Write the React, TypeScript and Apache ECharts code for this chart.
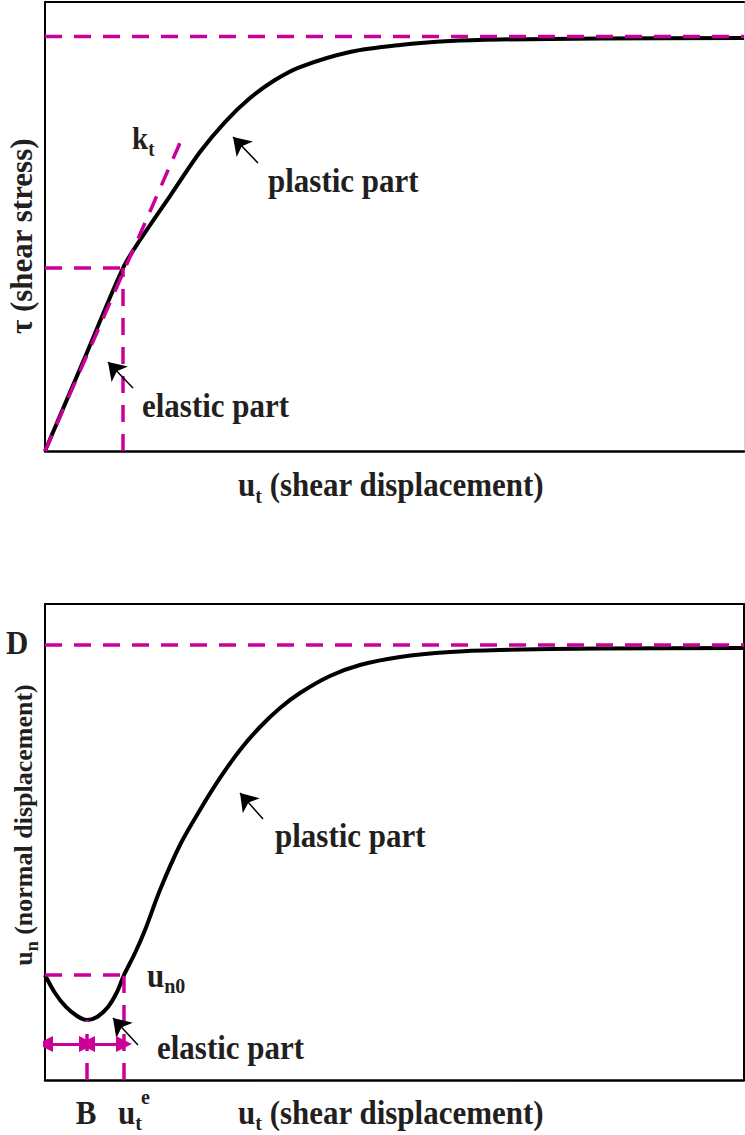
import React, { useEffect, useRef } from "react";
import * as echarts from "echarts";

const MAGENTA = "#CC0099";
const TEXT = "#231F20";
const FONT = '"Liberation Serif", "Times New Roman", serif';
const SY = 1.1;

// ---- Top panel: tau vs u_t (arbitrary 0..100 units) ----
const tauX = [0, 5.58, 11.16, 13.59, 17.88, 22.17, 25.75, 29.33, 32.9, 36.48, 43.63, 50.79, 57.94, 65.09, 79.4, 100];
const tauY = [0, 20.38, 40.76, 46.99, 56.79, 66.59, 73.27, 78.62, 82.63, 85.52, 88.86, 90.42, 91.31, 91.65, 91.87, 91.98];
const tauMax = 92.3;
const elasticLimitX = 11.16;
const elasticLimitTau = 40.76;
const ktEnd = [19.31, 68.6];
const topPlasticArrow = [[30.47, 64.14], [26.9, 69.93]];
const topElasticArrow = [[12.59, 14.03], [9.01, 19.82]];

// ---- Bottom panel: u_n vs u_t ----
const unX = [0, 1.43, 3.0, 4.58, 6.01, 7.44, 9.01, 10.3, 11.3, 12.88, 14.31, 16.45, 19.31, 22.17, 25.04, 27.9, 30.76, 33.62, 36.48, 40.77, 45.06, 50.79, 57.94, 65.09, 79.4, 100];
const unY = [22.06, 18.28, 15.34, 13.45, 12.61, 13.24, 15.34, 18.49, 22.06, 26.68, 31.51, 39.92, 49.37, 56.72, 63.45, 69.33, 74.16, 78.15, 81.3, 84.87, 87.18, 88.87, 89.92, 90.34, 90.65, 90.76];
const dMax = 91.39;
const bX = 6.01;
const bY = 12.61;
const uteX = 11.3;
const un0 = 22.06;
const arrowRowY = 7.56;
const botPlasticArrow = [[31.19, 54.83], [27.9, 60.29]];
const botElasticArrow = [[13.3, 7.35], [9.73, 13.03]];

type Part = { t: string; s: number; dy?: number; dx?: number };

function measure(t: string, s: number): number {
  const c = document.createElement("canvas").getContext("2d");
  if (!c) return t.length * s * 0.5;
  c.font = `bold ${s}px ${FONT}`;
  return c.measureText(t).width;
}

function runText(parts: Part[], x: number, baseline: number, anchor: "left" | "center" = "left", sy = SY) {
  const widths = parts.map((p) => measure(p.t, p.s));
  const total = widths.reduce((a, b) => a + b, 0);
  let cx = anchor === "center" ? x - total / 2 : x;
  return parts.map((p, i) => {
    const el = {
      type: "text",
      x: cx + (p.dx || 0),
      y: baseline + (p.dy || 0) - 0.34 * p.s * sy,
      scaleY: sy,
      silent: true,
      style: {
        text: p.t,
        fill: TEXT,
        font: `bold ${p.s}px ${FONT}`,
        align: "left",
        verticalAlign: "middle",
        textAlign: "left",
        textVerticalAlign: "middle",
      },
    };
    cx += widths[i];
    return el;
  });
}

const zip = (xs: number[], ys: number[]) => xs.map((x, i) => [x, ys[i]]);

const dashed = (data: number[][], xi: number, yi: number) => ({
  type: "line",
  xAxisIndex: xi,
  yAxisIndex: yi,
  data,
  symbol: "none",
  z: 3,
  lineStyle: { color: MAGENTA, width: 3.5, type: [17, 12] },
});

const arrow = (coords: number[][][], xi: number, yi: number, color: string, width: number, sym: any, size: number) => ({
  type: "lines",
  coordinateSystem: "cartesian2d",
  xAxisIndex: xi,
  yAxisIndex: yi,
  symbol: sym,
  symbolSize: size,
  z: 4,
  lineStyle: { color, width, opacity: 1, curveness: 0 },
  data: coords.map((c) => ({ coords: c })),
});

export default function App() {
  const ref = useRef<HTMLDivElement>(null);
  useEffect(() => {
    document.body.style.margin = "0";
    if (!ref.current) return;
    const chart = echarts.init(ref.current, undefined, { renderer: "svg" });

    const hideAxis = { axisLabel: { show: false }, axisTick: { show: false }, splitLine: { show: false } };
    const ax = (gridIndex: number, position: string, color: string, width: number) => ({
      type: "value",
      gridIndex,
      position,
      min: 0,
      max: 100,
      ...hideAxis,
      axisLine: { show: true, onZero: false, lineStyle: { color, width } },
    });

    const graphics: any[] = [
      // top panel texts
      {
        type: "group",
        x: 32,
        y: 236,
        rotation: Math.PI / 2,
        children: runText([{ t: "τ (shear stress)", s: 31 }], 0, 0, "center", 1),
      },
      ...runText([{ t: "u", s: 31 }, { t: "t", s: 20, dy: 7 }, { t: " (shear displacement)", s: 31 }], 238, 496),
      ...runText([{ t: "plastic part", s: 31 }], 268, 192),
      ...runText([{ t: "k", s: 29 }, { t: "t", s: 19, dy: 7 }], 132, 149),
      ...runText([{ t: "elastic part", s: 31 }], 142, 417),
      // bottom panel texts
      ...runText([{ t: "D", s: 31 }], 6, 654),
      {
        type: "group",
        x: 32,
        y: 825,
        rotation: Math.PI / 2,
        children: runText(
          [{ t: "u", s: 26 }, { t: "n", s: 18, dy: 6 }, { t: " (normal displacement)", s: 26 }],
          0,
          0,
          "center",
          1
        ),
      },
      ...runText([{ t: "u", s: 31 }, { t: "n0", s: 20, dy: 6 }], 147, 987),
      ...runText([{ t: "plastic part", s: 31 }], 275, 847),
      ...runText([{ t: "elastic part", s: 31 }], 157, 1059),
      ...runText([{ t: "B", s: 31 }], 86, 1124, "center"),
      ...runText([{ t: "u", s: 31 }, { t: "t", s: 20, dy: 6 }], 118, 1124),
      ...runText([{ t: "e", s: 20 }], 141, 1104),
      ...runText([{ t: "u", s: 31 }, { t: "t", s: 20, dy: 6 }, { t: " (shear displacement)", s: 31 }], 238, 1124),
    ];

    chart.setOption({
      animation: false,
      backgroundColor: "#fff",
      grid: [
        { left: 45, top: 2, width: 699, height: 449, show: false },
        { left: 45, top: 604, width: 699, height: 476, show: false },
      ],
      xAxis: [
        ax(0, "bottom", "#000", 2.5),
        ax(0, "top", "#000", 2),
        ax(1, "bottom", "#000", 2.5),
        ax(1, "top", "#000", 2),
      ],
      yAxis: [
        ax(0, "left", "#000", 2),
        ax(0, "right", "#d0d0d0", 1),
        ax(1, "left", "#000", 2),
        ax(1, "right", "#000", 2),
      ],
      series: [
        {
          type: "line",
          xAxisIndex: 0,
          yAxisIndex: 0,
          data: zip(tauX, tauY),
          smooth: 0.3,
          symbol: "none",
          z: 2,
          lineStyle: { color: "#000", width: 4 },
        },
        dashed([[0, tauMax], [100, tauMax]], 0, 0),
        dashed([[0, elasticLimitTau], [elasticLimitX, elasticLimitTau]], 0, 0),
        dashed([[elasticLimitX, 0], [elasticLimitX, elasticLimitTau]], 0, 0),
        dashed([[0, 0], ktEnd], 0, 0),
        arrow([topPlasticArrow, topElasticArrow], 0, 0, "#000", 1.5, ["none", "arrow"], 17),
        {
          type: "line",
          xAxisIndex: 2,
          yAxisIndex: 2,
          data: zip(unX, unY),
          smooth: 0.3,
          symbol: "none",
          z: 2,
          lineStyle: { color: "#000", width: 4 },
        },
        dashed([[0, dMax], [100, dMax]], 2, 2),
        dashed([[0, un0], [uteX, un0]], 2, 2),
        dashed([[bX, 0], [bX, bY]], 2, 2),
        dashed([[uteX, 0], [uteX, un0]], 2, 2),
        arrow([botPlasticArrow, botElasticArrow], 2, 2, "#000", 1.5, ["none", "arrow"], 17),
        arrow(
          [
            [[0, arrowRowY], [bX, arrowRowY]],
            [[bX, arrowRowY], [uteX, arrowRowY]],
          ],
          2,
          2,
          MAGENTA,
          3,
          ["triangle", "triangle"],
          16
        ),
      ],
      graphic: graphics,
    });
    return () => chart.dispose();
  }, []);
  return <div ref={ref} style={{ width: 745, height: 1135 }} />;
}
